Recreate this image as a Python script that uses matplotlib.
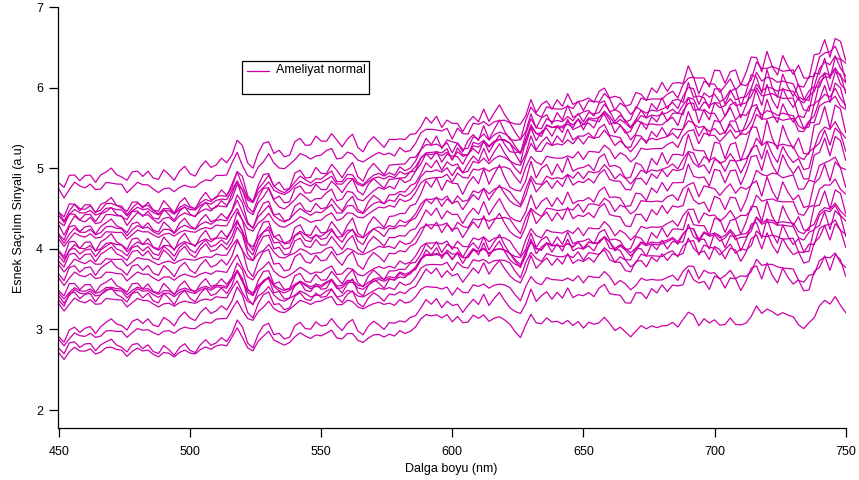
import numpy as np
import matplotlib
matplotlib.use("Agg")
import matplotlib.pyplot as plt
from matplotlib.patches import Rectangle
from matplotlib.lines import Line2D

plt.rcParams['font.family'] = ['Liberation Sans', 'DejaVu Sans']

# -------- data --------
wavelength = np.arange(450, 751, 2)  # nm

# common spectral wiggle shared by all traces (2 nm steps, 450..750)
ripple = [
    0.00, -0.08, 0.04, 0.08, 0.02, 0.04, 0.06, -0.02, 0.03, 0.08,
    0.10, 0.05, 0.03, -0.04, 0.04, 0.07, 0.02, 0.05, -0.02, -0.05,
    0.03, 0.00, -0.06, 0.02, 0.06, 0.00, -0.03, 0.04, 0.08, 0.02,
    0.05, 0.08, 0.04, 0.14, 0.28, 0.16, -0.02, -0.08, 0.06, 0.14,
    0.18, 0.04, 0.02, -0.04, -0.02, 0.08, 0.12, 0.05, 0.02, 0.08,
    0.04, 0.06, 0.12, 0.02, -0.02, 0.06, 0.08, -0.04, -0.08, 0.00,
    0.05, 0.03, -0.02, 0.04, 0.02, 0.07, 0.04, 0.08, 0.12, 0.22,
    0.30, 0.26, 0.30, 0.22, 0.28, 0.20, 0.24, 0.14, 0.18, 0.26,
    0.20, 0.28, 0.16, 0.22, 0.26, 0.18, 0.10, 0.02, -0.04, 0.10,
    0.26, 0.12, 0.14, 0.20, 0.12, 0.16, 0.10, 0.18, 0.08, 0.12,
    0.06, 0.12, 0.08, 0.14, 0.20, 0.10, 0.04, 0.06, -0.02, -0.06,
    0.04, 0.08, 0.02, 0.10, 0.06, 0.12, 0.08, 0.14, 0.10, 0.16,
    0.30, 0.22, 0.12, 0.18, 0.10, 0.20, 0.14, 0.08, 0.18, 0.12,
    0.04, 0.10, 0.22, 0.30, 0.16, 0.28, 0.18, 0.10, 0.20, 0.12,
    0.06, 0.02, -0.08, -0.04, 0.10, 0.20, 0.30, 0.18, 0.32, 0.22,
    0.06,
]

# secondary wiggle that differs from trace to trace (same grid)
ripple_b = [
    0.04, 0.00, -0.05, 0.03, 0.06, -0.02, 0.02, 0.05, -0.03, 0.01,
    -0.04, 0.03, 0.06, 0.01, -0.03, 0.02, 0.06, 0.00, 0.04, 0.02,
    -0.05, 0.02, 0.05, -0.01, -0.04, 0.03, 0.06, 0.00, -0.04, 0.03,
    0.06, -0.02, 0.04, 0.08, 0.02, -0.06, 0.04, 0.08, 0.02, -0.04,
    0.03, 0.07, -0.02, 0.05, 0.08, -0.03, 0.00, 0.06, 0.02, -0.05,
    0.02, 0.07, 0.00, -0.04, 0.05, 0.02, -0.06, 0.03, 0.06, -0.02,
    -0.05, 0.04, 0.08, 0.00, -0.03, 0.05, 0.01, -0.04, 0.03, 0.06,
    -0.02, 0.05, -0.04, 0.08, 0.02, -0.06, 0.06, 0.10, -0.02, 0.03,
    0.08, -0.04, 0.06, 0.00, -0.08, 0.04, 0.10, 0.02, -0.06, 0.05,
    0.00, 0.08, -0.05, 0.02, 0.10, -0.02, 0.06, -0.06, 0.04, 0.09,
    -0.03, 0.05, 0.10, -0.04, 0.02, 0.08, -0.06, 0.04, 0.10, 0.00,
    -0.08, 0.06, 0.12, -0.02, 0.04, -0.08, 0.08, 0.02, -0.06, 0.10,
    -0.04, 0.12, -0.06, 0.08, 0.16, -0.04, -0.12, 0.10, 0.04, -0.10,
    0.14, -0.02, -0.14, 0.06, 0.16, -0.08, 0.12, 0.20, -0.06, 0.08,
    0.18, -0.10, 0.04, 0.16, -0.12, 0.08, -0.04, 0.18, 0.02, -0.08,
    0.10,
]

# baseline level of each trace at these wavelengths
anchor_nm = [450, 500, 550, 600, 650, 700, 750]
levels = [
    [2.70, 2.70, 2.88, 2.93, 2.97, 2.95, 3.13],
    [2.78, 2.75, 3.01, 3.08, 3.35, 3.45, 3.63],
    [2.86, 3.00, 3.31, 3.28, 3.54, 3.55, 3.68],
    [2.92, 3.15, 3.36, 3.43, 3.77, 3.80, 3.98],
    [3.30, 3.32, 3.38, 3.58, 3.82, 3.85, 4.08],
    [3.38, 3.40, 3.46, 3.68, 3.92, 3.95, 4.13],
    [3.40, 3.45, 3.48, 3.70, 3.95, 4.00, 4.25],
    [3.44, 3.48, 3.51, 3.73, 3.97, 4.05, 4.33],
    [3.50, 3.52, 3.58, 3.78, 4.02, 4.15, 4.43],
    [3.62, 3.65, 3.66, 3.83, 4.12, 4.25, 4.58],
    [3.70, 3.75, 3.81, 3.98, 4.32, 4.40, 4.73],
    [3.78, 3.85, 3.91, 4.08, 4.42, 4.60, 4.88],
    [3.86, 3.95, 4.01, 4.18, 4.52, 4.75, 5.08],
    [3.92, 4.00, 4.08, 4.33, 4.75, 4.88, 5.18],
    [3.95, 4.05, 4.11, 4.38, 4.82, 4.95, 5.28],
    [4.00, 4.10, 4.16, 4.53, 4.92, 5.05, 5.43],
    [4.10, 4.20, 4.31, 4.68, 5.07, 5.25, 5.63],
    [4.15, 4.25, 4.40, 4.72, 5.25, 5.30, 5.68],
    [4.20, 4.30, 4.46, 4.78, 5.32, 5.35, 5.73],
    [4.27, 4.40, 4.56, 4.88, 5.42, 5.45, 5.83],
    [4.36, 4.45, 4.71, 4.93, 5.47, 5.60, 5.93],
    [4.40, 4.48, 4.78, 4.95, 5.50, 5.65, 5.98],
    [4.44, 4.50, 4.81, 4.98, 5.52, 5.70, 6.03],
    [4.48, 4.55, 4.91, 5.08, 5.62, 5.75, 6.08],
    [4.72, 4.75, 5.11, 5.18, 5.67, 5.85, 6.18],
    [4.84, 4.95, 5.31, 5.33, 5.77, 6.00, 6.33],
]
ripple_gain = [0.9, 1.0, 0.85, 1.1, 0.9, 1.15, 0.95, 0.8, 1.05, 0.95, 1.2, 0.85,
               1.1, 1.1, 1.0, 1.25, 0.9, 1.05, 1.15, 1.3, 0.95, 0.9, 1.2, 1.05, 1.1, 1.0]
ripple_b_gain = [0.25, -0.3, 0.4, -0.25, 0.5, -0.4, 0.4, 0.3, -0.5, 0.45, -0.35, 0.55,
                 -0.45, -0.3, 0.35, -0.6, 0.5, 0.35, -0.4, 0.65, -0.55, 0.3, 0.45,
                 -0.65, 0.6, -0.5]

LINE_COLOR = "#cc00aa"

# -------- figure --------
fig = plt.figure(figsize=(8.59, 4.8), dpi=100)
ax = fig.add_axes([57.5 / 859, 51.7 / 480, (845.7 - 57.5) / 859, (472.7 - 51.7) / 480])

rip_a = np.array(ripple)
rip_b = np.array(ripple_b)
for lv, ga, gb in zip(levels, ripple_gain, ripple_b_gain):
    base = np.interp(wavelength, anchor_nm, lv)
    ax.plot(wavelength, base + ga * rip_a + gb * rip_b, color=LINE_COLOR, lw=0.9)

ax.set_xlim(449.5, 750)
ax.set_ylim(1.773, 7.0)
ax.set_xticks([450, 500, 550, 600, 650, 700, 750])
ax.set_yticks([2, 3, 4, 5, 6, 7])
for s in ("top", "right"):
    ax.spines[s].set_visible(False)
for s in ("left", "bottom"):
    ax.spines[s].set_linewidth(0.9)
ax.tick_params(direction="out", length=6.5, width=0.9, labelsize=9)
ax.tick_params(axis="x", pad=6)
ax.tick_params(axis="y", pad=4)
ax.set_xlabel("Dalga boyu (nm)", fontsize=9, labelpad=4)
ax.set_ylabel("Esnek Saçılım Sinyali (a.u)", fontsize=9, labelpad=8)

# Igor-style legend box
fig.add_artist(Rectangle((242.3 / 859, 1 - 94.3 / 480), 127 / 859, 33.3 / 480,
                         transform=fig.transFigure, fill=False, ec="black", lw=0.9))
fig.add_artist(Line2D([246.7 / 859, 269.3 / 859], [1 - 70.5 / 480] * 2,
                      transform=fig.transFigure, color=LINE_COLOR, lw=0.9))
fig.text(276 / 859, 1 - 70.5 / 480, "Ameliyat normal", fontsize=9, va="center", ha="left")

fig.savefig("out.png", dpi=100)
